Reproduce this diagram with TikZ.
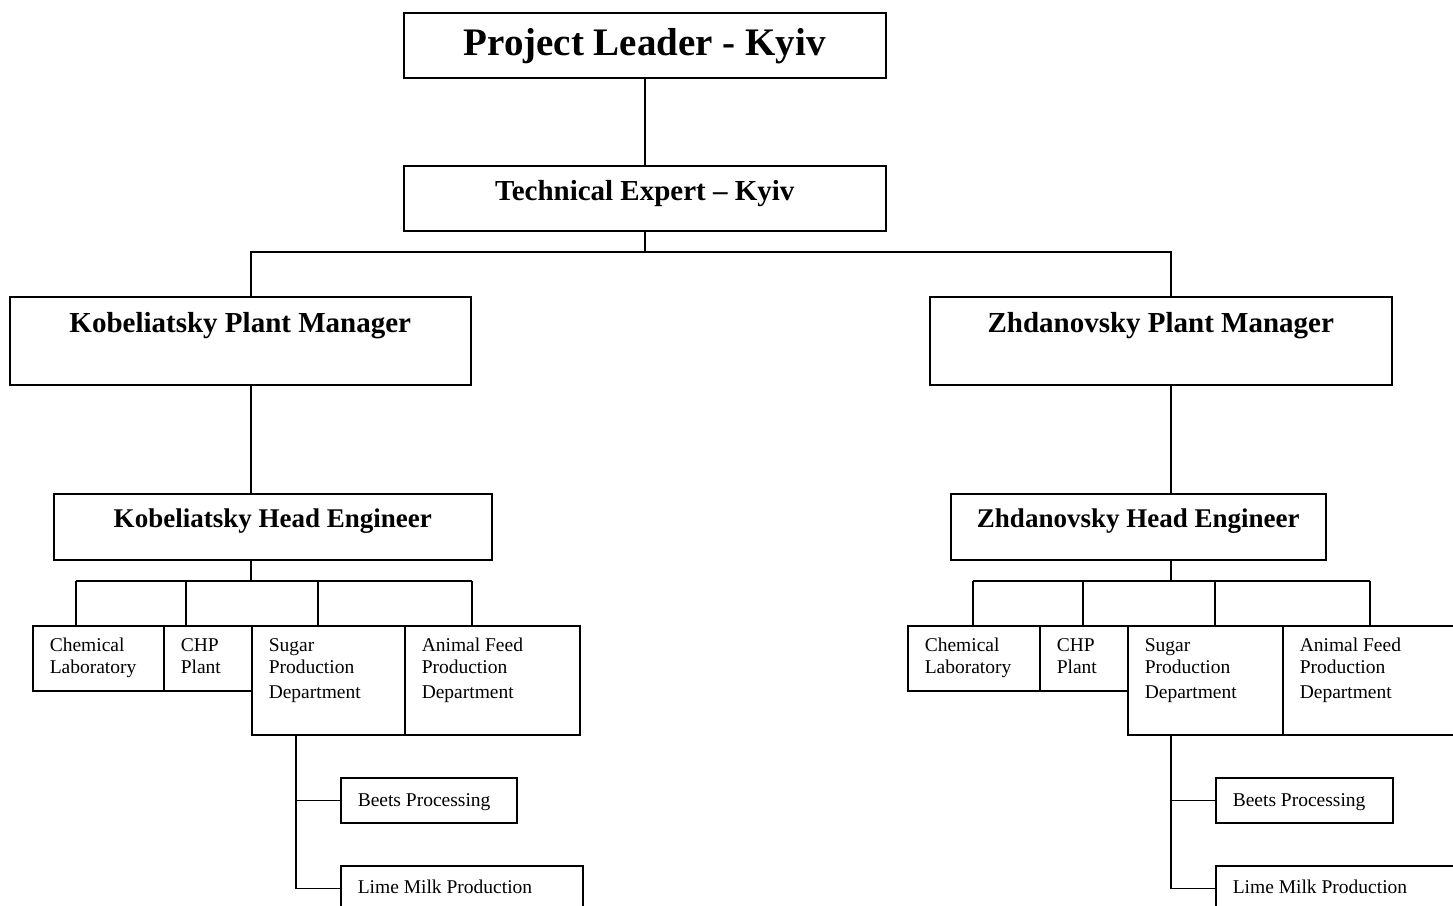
\documentclass[tikz,border=0pt]{standalone}
\usepackage{fontspec}
\setmainfont{Liberation Serif}
\begin{document}
\begin{tikzpicture}[x=1pt,y=-1pt,
    unit/.style ={draw, line width=1.5pt, inner sep=0pt, anchor=north west},
    chief/.style ={unit, font=\bfseries\fontsize{39}{43}\selectfont},
    manager/.style ={unit, font=\bfseries\fontsize{29}{33}\selectfont},
    engineer/.style ={unit, font=\bfseries\fontsize{27}{31}\selectfont},
    dept/.style ={unit, inner xsep=17pt, align=flush left, font=\fontsize{19.5}{22}\selectfont},
    link/.style ={line width=1.5pt}]
   \useasboundingbox (0,0) rectangle (1453,905);
   \clip (0,0) rectangle (1453,905);
   % top of the chart
   \node[chief, minimum width=482pt, text height=43pt, text depth=22pt] (lead) at (403,12) {Project Leader - Kyiv};
   \node[manager, minimum width=482pt, text height=35pt, text depth=30pt] (tech) at (403,165) {Technical Expert -- Kyiv};
   \node[manager, minimum width=461pt, text height=36pt, text depth=52pt] (kpm) at (9,296) {Kobeliatsky Plant Manager};
   \node[manager, minimum width=462pt, text height=36pt, text depth=52pt] (zpm) at (929,296) {Zhdanovsky Plant Manager};
   \node[engineer, minimum width=438pt, text height=34pt, text depth=32pt] (khe) at (53,493) {Kobeliatsky Head Engineer};
   \node[engineer, minimum width=375pt, text height=34pt, text depth=32pt] (zhe) at (950,493) {Zhdanovsky Head Engineer};
   % Kobeliatsky departments
   \node[dept, text width=97pt, text height=26pt, text depth=39pt] (kchem) at (32,625) {Chemical\\Laboratory};
   \node[dept, text width=54pt, text height=26pt, text depth=39pt] (kchp) at (163,625) {CHP\\Plant};
   \node[dept, text width=119pt, text height=26pt, text depth=83pt] (ksugar) at (251,625) {Sugar\\Production\\[3pt]Department};
   \node[dept, text width=141pt, text height=26pt, text depth=83pt] (kfeed) at (404,625) {Animal Feed\\Production\\[3pt]Department};
   \node[dept, text width=142pt, text height=29pt, text depth=16pt] (kbeets) at (340,777) {Beets Processing};
   \node[dept, text width=208pt, text height=28pt, text depth=17pt] (klime) at (340,865) {Lime Milk Production};
   % Zhdanovsky departments
   \node[dept, text width=98pt, text height=26pt, text depth=39pt] (zchem) at (907,625) {Chemical\\Laboratory};
   \node[dept, text width=54pt, text height=26pt, text depth=39pt] (zchp) at (1039,625) {CHP\\Plant};
   \node[dept, text width=121pt, text height=26pt, text depth=83pt] (zsugar) at (1127,625) {Sugar\\Production\\[3pt]Department};
   \node[dept, text width=141pt, text height=26pt, text depth=83pt] (zfeed) at (1282,625) {Animal Feed\\Production\\[3pt]Department};
   \node[dept, text width=143pt, text height=29pt, text depth=16pt] (zbeets) at (1215,777) {Beets Processing};
   \node[dept, text width=208pt, text height=28pt, text depth=17pt] (zlime) at (1215,865) {Lime Milk Production};
   % connectors
   \coordinate (kx) at (251,252);
   \coordinate (zx) at (1171,252);
   \draw[link] (lead.south) -- (tech.north);
   \draw[link] (tech.south) -- (tech.south |- kx);
   \draw[link] (kx |- kpm.north) -- (kx) -- (zx) -- (zx |- zpm.north);
   \draw[link] (kx |- kpm.south) -- (kx |- khe.north);
   \draw[link] (zx |- zpm.south) -- (zx |- zhe.north);
   \coordinate (kbus) at (251,581);
   \coordinate (zbus) at (1171,581);
   \draw[link] (kbus |- khe.south) -- (kbus);
   \draw[link] (zbus |- zhe.south) -- (zbus);
   \coordinate (kl) at (76,581);
   \coordinate (kr) at (472,581);
   \coordinate (zl) at (973,581);
   \coordinate (zr) at (1370,581);
   \draw[link] (kl) -- (kr);
   \draw[link] (zl) -- (zr);
   \foreach \x/\d in {76/kchem,186/kchp,318/ksugar,472/kfeed,973/zchem,1083/zchp,1215/zsugar,1370/zfeed}{
     \coordinate (drop) at (\x,581);
     \draw[link] (drop) -- (drop |- \d.north);
   }
   \coordinate (kdn) at ([xshift=45pt]ksugar.south west);
   \draw[link] (kdn) |- (klime.west);
   \draw[link] (kdn |- kbeets.west) -- (kbeets.west);
   \coordinate (zdn) at ([xshift=44pt]zsugar.south west);
   \draw[link] (zdn) |- (zlime.west);
   \draw[link] (zdn |- zbeets.west) -- (zbeets.west);
\end{tikzpicture}
\end{document}
